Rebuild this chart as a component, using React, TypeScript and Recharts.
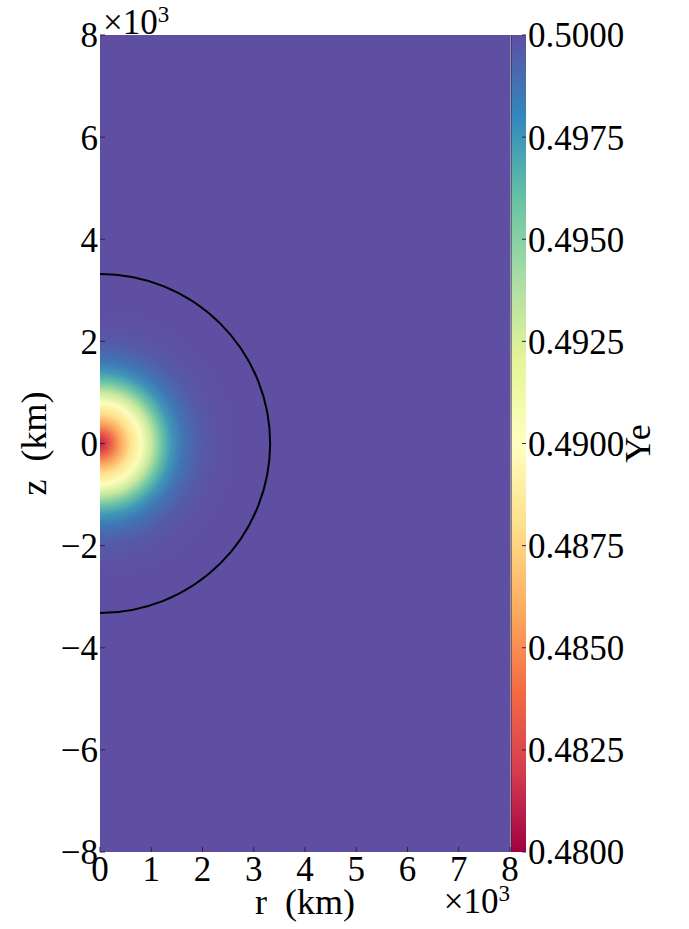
import { ScatterChart, Scatter, XAxis, YAxis, ReferenceArea, Label } from 'recharts';

// axes, in units of 10^3 km
const rTicks = [0, 1, 2, 3, 4, 5, 6, 7, 8];
const zTicks = [-8, -6, -4, -2, 0, 2, 4, 6, 8];

// radial Ye profile (radius in 10^3 km)
const radiusKm = [0, 0.2, 0.4, 0.6, 0.8, 1.0, 1.2, 1.4, 1.6, 1.8, 2.0, 2.3, 2.6];
const yeProfile = [0.481, 0.4832, 0.4858, 0.4882, 0.4903, 0.493, 0.4958, 0.4975, 0.4986, 0.4992, 0.4996, 0.4999, 0.5];

// black boundary circle radius
const boundaryRadius = [3.32];

// colorbar
const yeRange = [0.48, 0.5];
const cbarTicks = [0.48, 0.4825, 0.485, 0.4875, 0.49, 0.4925, 0.495, 0.4975, 0.5];

const SPECTRAL = ['#9e0142', '#d53e4f', '#f46d43', '#fdae61', '#fee08b', '#ffffbf', '#e6f598', '#abdda4', '#66c2a5', '#3288bd', '#5e4fa2'];
const FONT = '"Liberation Serif", "DejaVu Serif", serif';
const FS = 35;
const LFS = 36;

const profileData = radiusKm.map((r, i) => ({ r, z: 0, ye: yeProfile[i] }));
const cbarData = cbarTicks.map((ye) => ({ c: 0.5, ye }));

const hex = (h: string) => [1, 3, 5].map((i) => parseInt(h.slice(i, i + 2), 16));

const spectral = (t: number) => {
  const c = Math.max(0, Math.min(1, t)) * (SPECTRAL.length - 1);
  const i = Math.min(Math.floor(c), SPECTRAL.length - 2);
  const f = c - i;
  const a = hex(SPECTRAL[i]);
  const b = hex(SPECTRAL[i + 1]);
  const m = a.map((v, k) => Math.round(v + (b[k] - v) * f));
  return `rgb(${m[0]},${m[1]},${m[2]})`;
};

const yeColor = (ye: number) => spectral((ye - yeRange[0]) / (yeRange[1] - yeRange[0]));
const BG = yeColor(yeRange[1]);

const fmtTick = (v: number) => (v < 0 ? `\u2212${-v}` : `${v}`);

const HeatShape = (props: any) => {
  const { x, y, width, height } = props;
  const cx = x;
  const cy = y + height / 2;
  const ry = height / 2;
  const d = `M ${x} ${y} A ${width} ${ry} 0 0 1 ${x} ${y + height} Z`;
  const rMax = radiusKm[radiusKm.length - 1];
  return (
    <g>
      <defs>
        <radialGradient
          id="yeHeat"
          gradientUnits="userSpaceOnUse"
          cx={cx}
          cy={cy}
          r={width}
          gradientTransform={`translate(${cx} ${cy}) scale(1 ${ry / width}) translate(${-cx} ${-cy})`}
        >
          {radiusKm.map((r, i) => (
            <stop key={i} offset={r / rMax} stopColor={yeColor(yeProfile[i])} />
          ))}
        </radialGradient>
      </defs>
      <path d={d} fill="url(#yeHeat)" />
    </g>
  );
};

const BoundaryShape = (props: any) => {
  const { x, y, width, height } = props;
  const d = `M ${x} ${y} A ${width} ${height / 2} 0 0 1 ${x} ${y + height}`;
  return <path d={d} fill="none" stroke="#000" strokeWidth={2} />;
};

const NoMark = () => <g />;

const tickStyle = { fontSize: FS, fill: '#000', fontFamily: FONT };
const inTick = { stroke: '#2a2448', strokeWidth: 1 };

const MainPlot = () => (
  <ScatterChart width={689} height={929} margin={{ top: 35, right: 179, bottom: 37, left: 40 }}>
    <ReferenceArea x1={0} x2={8} y1={-8} y2={8} fill={BG} fillOpacity={1} stroke="none" />
    <ReferenceArea
      x1={0}
      x2={radiusKm[radiusKm.length - 1]}
      y1={-radiusKm[radiusKm.length - 1]}
      y2={radiusKm[radiusKm.length - 1]}
      shape={HeatShape}
    />
    <ReferenceArea
      x1={0}
      x2={boundaryRadius[0]}
      y1={-boundaryRadius[0]}
      y2={boundaryRadius[0]}
      shape={BoundaryShape}
    />
    <XAxis
      type="number"
      dataKey="r"
      domain={[0, 8]}
      ticks={rTicks}
      interval={0}
      tickFormatter={fmtTick}
      axisLine={false}
      tickLine={inTick}
      tickSize={-5}
      tickMargin={9}
      height={40}
      tick={tickStyle}
    >
      <Label
        content={(p: any) => {
          const vb = p.viewBox;
          return (
            <text x={vb.x + vb.width / 2} y={vb.y + 62} textAnchor="middle" fontSize={LFS} fontFamily={FONT} style={{ whiteSpace: 'pre' }}>
              r  (km)
            </text>
          );
        }}
      />
      <Label
        content={(p: any) => {
          const vb = p.viewBox;
          return (
            <text x={vb.x + vb.width} y={vb.y + 61} textAnchor="end" fontSize={FS} fontFamily={FONT}>
              ×10<tspan dy={-12} fontSize={23}>3</tspan>
            </text>
          );
        }}
      />
    </XAxis>
    <YAxis
      type="number"
      dataKey="z"
      domain={[-8, 8]}
      ticks={zTicks}
      interval={0}
      tickFormatter={fmtTick}
      axisLine={false}
      tickLine={inTick}
      tickSize={-5}
      tickMargin={7}
      width={60}
      tick={tickStyle}
    >
      <Label
        content={(p: any) => {
          const vb = p.viewBox;
          const tx = vb.x + 6;
          const ty = vb.y + vb.height / 2;
          return (
            <text x={tx} y={ty} textAnchor="middle" fontSize={LFS} fontFamily={FONT} transform={`rotate(-90 ${tx} ${ty})`} style={{ whiteSpace: 'pre' }}>
              z  (km)
            </text>
          );
        }}
      />
      <Label
        content={(p: any) => {
          const vb = p.viewBox;
          return (
            <text x={vb.x + vb.width + 3} y={vb.y - 1} fontSize={FS} fontFamily={FONT}>
              ×10<tspan dy={-12} fontSize={23}>3</tspan>
            </text>
          );
        }}
      />
    </YAxis>
    <Scatter data={profileData} dataKey="z" shape={NoMark} isAnimationActive={false} />
  </ScatterChart>
);

const ColorBarShape = (props: any) => {
  const { x, y, width, height } = props;
  return (
    <g>
      <defs>
        <linearGradient id="cbarGrad" x1="0" y1="1" x2="0" y2="0">
          {SPECTRAL.map((c, i) => (
            <stop key={i} offset={i / (SPECTRAL.length - 1)} stopColor={c} />
          ))}
        </linearGradient>
      </defs>
      <rect x={x} y={y} width={width} height={height} fill="url(#cbarGrad)" />
      <line x1={x} y1={y} x2={x} y2={y + height} stroke="#2b2550" strokeWidth={1} />
    </g>
  );
};

const ColorBar = () => (
  <ScatterChart width={689} height={929} margin={{ top: 35, right: 33, bottom: 77, left: 511 }}>
    <ReferenceArea x1={0} x2={1} y1={yeRange[0]} y2={yeRange[1]} shape={ColorBarShape} />
    <XAxis type="number" dataKey="c" domain={[0, 1]} hide />
    <YAxis
      type="number"
      dataKey="ye"
      orientation="right"
      domain={yeRange}
      ticks={cbarTicks}
      interval={0}
      tickFormatter={(v: number) => v.toFixed(4)}
      axisLine={false}
      tickLine={inTick}
      tickSize={-4}
      tickMargin={6}
      width={130}
      tick={tickStyle}
    >
      <Label
        content={(p: any) => {
          const vb = p.viewBox;
          const tx = vb.x + 124;
          const ty = vb.y + vb.height / 2;
          return (
            <text x={tx} y={ty} textAnchor="middle" fontSize={LFS} fontFamily={FONT} transform={`rotate(-90 ${tx} ${ty})`}>
              Ye
            </text>
          );
        }}
      />
    </YAxis>
    <Scatter data={cbarData} dataKey="ye" shape={NoMark} isAnimationActive={false} />
  </ScatterChart>
);

export default function App() {
  return (
    <div style={{ position: 'absolute', left: 0, top: 0, width: 689, height: 929, background: '#fff' }}>
      <div style={{ position: 'absolute', left: 0, top: 0 }}>
        <MainPlot />
      </div>
      <div style={{ position: 'absolute', left: 0, top: 0 }}>
        <ColorBar />
      </div>
    </div>
  );
}
